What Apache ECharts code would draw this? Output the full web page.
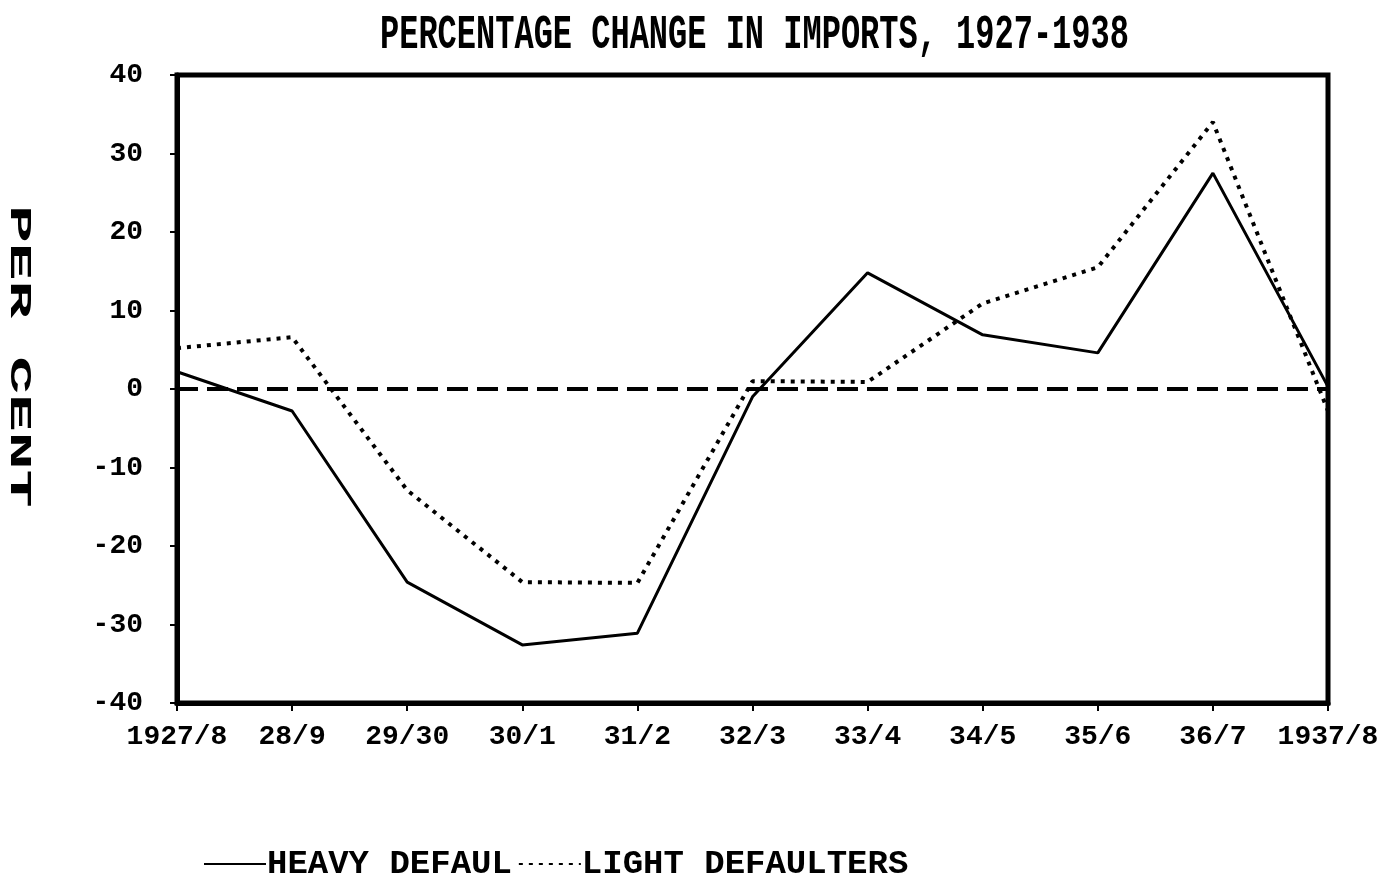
<!DOCTYPE html>
<html>
<head>
<meta charset="utf-8">
<script src="https://cdn.jsdelivr.net/npm/echarts@6/dist/echarts.min.js"></script>
<style>
  html, body { margin: 0; padding: 0; background: #fff; }
  #chart { width: 1391px; height: 885px; }
</style>
</head>
<body>
<div id="chart"></div>
<script>
var years = ['1927/8', '28/9', '29/30', '30/1', '31/2', '32/3', '33/4', '34/5', '35/6', '36/7', '1937/8'];
var heavy = [2.2, -2.8, -24.6, -32.6, -31.1, -1, 14.8, 6.9, 4.6, 27.5, 0.3];
var light = [5.2, 6.6, -12.9, -24.6, -24.7, 1, 0.9, 10.9, 15.5, 34, -2.8];
var yTicks = [-40, 40, 10];

var fontFam = '"Liberation Mono", "DejaVu Sans Mono", monospace';

var chart = echarts.init(document.getElementById('chart'));

var option = {
    backgroundColor: '#fff',
    animation: false,
    graphic: [
        {
            type: 'text',
            left: 380,
            top: 12,
            scaleY: 1.5,
            style: {
                text: 'PERCENTAGE CHANGE IN IMPORTS, 1927-1938',
                font: 'bold 32px ' + fontFam,
                fill: '#000'
            }
        },
        {
            type: 'text',
            x: 34,
            y: 205,
            rotation: -Math.PI / 2,
            scaleX: 2.1,
            style: {
                text: 'PER CENT',
                font: 'bold 30px ' + fontFam,
                fill: '#000'
            }
        }
    ],
    legend: {
        left: 198,
        top: 842,
        itemWidth: 62,
        itemHeight: 14,
        itemGap: 6,
        data: ['HEAVY DEFAUL', 'LIGHT DEFAULTERS'],
        itemStyle: { color: 'transparent', borderColor: 'transparent', borderWidth: 0 },
        textStyle: {
            color: '#000',
            fontFamily: fontFam,
            fontSize: 34,
            fontWeight: 'bold',
            padding: [0, 0, 0, -4]
        }
    },
    grid: {
        left: 177,
        right: 63,
        top: 75,
        bottom: 182,
        show: true,
        borderColor: '#000',
        borderWidth: 5,
        containLabel: false
    },
    xAxis: {
        type: 'category',
        data: years,
        boundaryGap: false,
        axisLine: { onZero: false, lineStyle: { color: '#000', width: 5 } },
        axisTick: { show: true, inside: false, length: 8, interval: 0, lineStyle: { color: '#000', width: 2 } },
        axisLabel: {
            color: '#000',
            fontFamily: fontFam,
            fontSize: 28,
            fontWeight: 'bold',
            interval: 0,
            margin: 20
        },
        splitLine: { show: false }
    },
    yAxis: {
        type: 'value',
        min: yTicks[0],
        max: yTicks[1],
        interval: yTicks[2],
        axisLine: { show: true, lineStyle: { color: '#000', width: 5 } },
        axisTick: { show: true, length: 7, lineStyle: { color: '#000', width: 2 } },
        axisLabel: {
            color: '#000',
            fontFamily: fontFam,
            fontSize: 28,
            fontWeight: 'bold',
            margin: 34
        },
        splitLine: { show: false }
    },
    series: [
        {
            name: 'HEAVY DEFAUL',
            type: 'line',
            data: heavy,
            symbol: 'none',
            lineStyle: { color: '#000', width: 3, type: 'solid' },
            itemStyle: { color: '#000' },
            markLine: {
                silent: true,
                symbol: 'none',
                label: { show: false },
                lineStyle: { color: '#000', width: 4, type: [21, 9] },
                data: [{ yAxis: 0 }]
            }
        },
        {
            name: 'LIGHT DEFAULTERS',
            type: 'line',
            data: light,
            symbol: 'none',
            lineStyle: { color: '#000', width: 4, type: [4, 6] },
            itemStyle: { color: '#000' }
        }
    ]
};

chart.setOption(option);
</script>
</body>
</html>
